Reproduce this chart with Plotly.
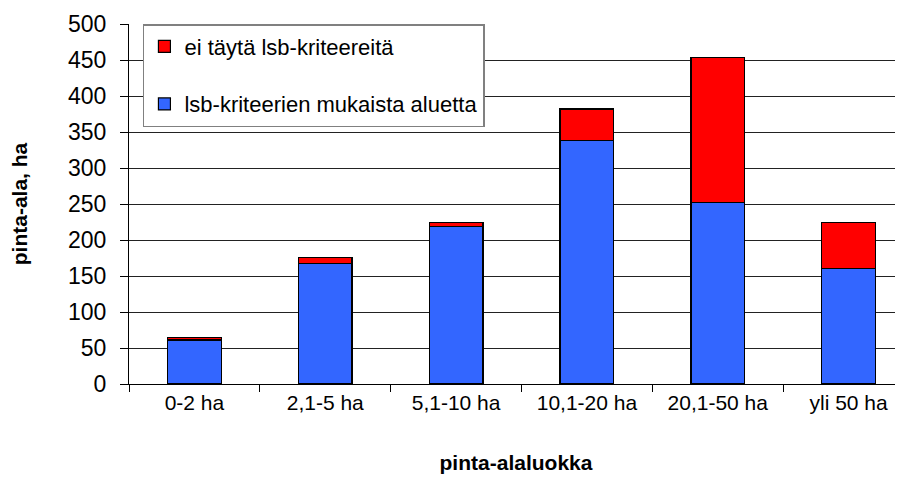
import plotly.graph_objects as go

categories = ["0-2 ha", "2,1-5 ha", "5,1-10 ha", "10,1-20 ha", "20,1-50 ha", "yli 50 ha"]
lsb_ok = [61, 167, 219, 338, 252, 160]
lsb_not = [4, 9, 5, 44, 202, 64]

font = "Liberation Sans, Arial, sans-serif"

fig = go.Figure()
fig.add_trace(go.Bar(x=categories, y=lsb_ok, name="lsb-kriteerien mukaista aluetta",
                     marker=dict(color="#3366FF", line=dict(color="black", width=1.2)),
                     width=0.41, legendgroup="b", legendrank=2))
fig.add_trace(go.Bar(x=categories, y=lsb_not, name="ei täytä lsb-kriteereitä",
                     marker=dict(color="#FF0000", line=dict(color="black", width=1.2)),
                     width=0.41, legendgroup="a", legendrank=1))

# page body has an 8px margin, so the figure is shrunk by that much
fig.update_layout(
    barmode="stack",
    width=895, height=470,
    plot_bgcolor="white", paper_bgcolor="white",
    margin=dict(l=121, r=0, t=16, b=94),
    font=dict(family=font, size=21, color="black"),
    legend=dict(x=0.018, y=1, xanchor="left", yanchor="top",
                bgcolor="white", bordercolor="#808080", borderwidth=1.5,
                traceorder="grouped", tracegroupgap=26,
                font=dict(size=22)),
    xaxis=dict(
        range=[-0.5, 5.416],
        showline=True, linecolor="black", linewidth=1,
        ticks="outside", tickson="boundaries", ticklen=7, tickcolor="black",
        tickfont=dict(size=21),
        title=dict(text="<b>pinta-alaluokka</b>", font=dict(size=21), standoff=42),
    ),
    yaxis=dict(
        range=[0, 500], dtick=50,
        showline=True, linecolor="black", linewidth=1,
        showgrid=True, gridcolor="#222", gridwidth=1,
        zeroline=False,
        ticks="outside", ticklen=8, tickcolor="black",
        ticklabelstandoff=9,
        tickfont=dict(size=23),
        title=dict(text="<b>pinta-ala, ha</b>", font=dict(size=21), standoff=34),
    ),
)

fig.write_html("out.html")
